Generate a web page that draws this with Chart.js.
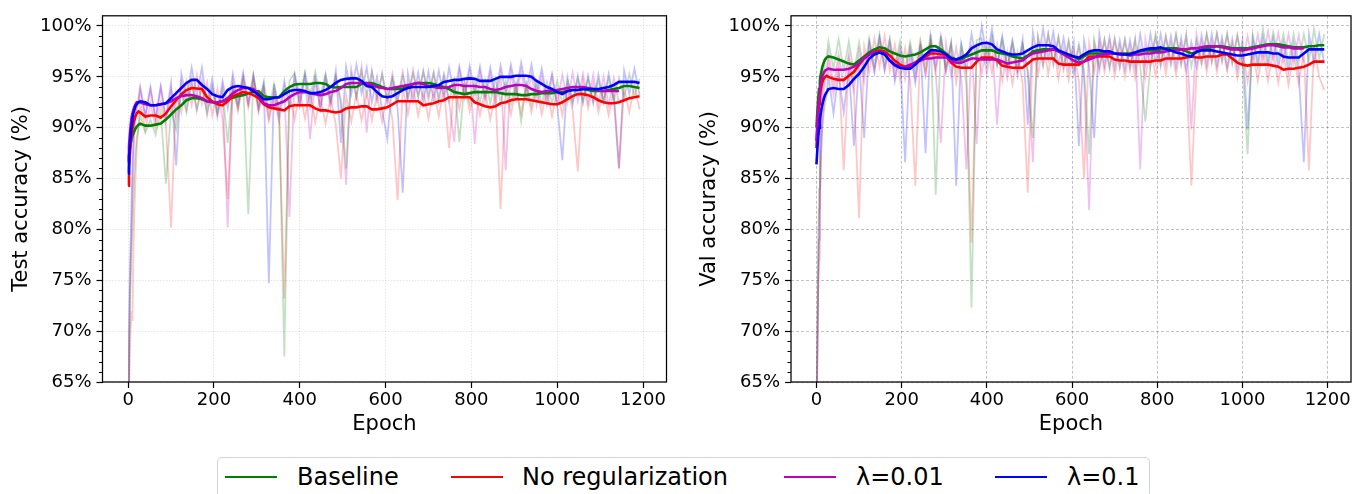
<!DOCTYPE html>
<html><head><meta charset="utf-8">
<script src="https://cdn.jsdelivr.net/npm/chart.js@4.4.1/dist/chart.umd.min.js"></script>
<style>
html,body{margin:0;padding:0;background:#fff;}
body{width:1354px;height:494px;position:relative;overflow:hidden;font-family:"DejaVu Sans",sans-serif;}
#c1{position:absolute;left:0;top:0;}
#c2{position:absolute;left:690px;top:0;}
#legend{position:absolute;left:217px;top:457px;width:933px;height:60px;border:1px solid #d4d4d4;border-radius:5px;box-sizing:border-box;background:#fff;}
.ln{position:absolute;top:18px;height:2px;width:52px;}
.tx{position:absolute;top:7px;font-size:24px;line-height:24px;color:#000;white-space:nowrap;}
</style></head>
<body>
<canvas id="c1" width="690" height="450"></canvas>
<canvas id="c2" width="664" height="450"></canvas>
<div id="legend"></div>
<script>
// ---------- data ----------
const EPOCHS = [0,2,4,6,8,10,12,14,17,20,24,
 28,40,52,64,76,88,100,112,124,136,
 148,160,172,184,196,208,220,232,244,256,
 268,280,292,304,316,328,340,352,364,376,
 388,400,412,424,436,448,460,472,484,496,
 508,520,532,544,556,568,580,592,604,616,
 628,640,652,664,676,688,700,712,724,736,
 748,760,772,784,796,808,820,832,844,856,
 868,880,892,904,916,928,940,952,964,976,
 988,1000,1012,1024,1036,1048,1060,1072,1084,1096,
 1108,1120,1132,1144,1156,1168,1180,1192];

const X_TICKS = [0,200,400,600,800,1000,1200];
const Y_TICKS = [65,70,75,80,85,90,95,100];
const Y_MINOR = [66,67,68,69,71,72,73,74,76,77,78,79,81,82,83,84,86,87,88,89,91,92,93,94,96,97,98,99];
const LEGEND_LABELS = ['Baseline','No regularization','\u03bb=0.01','\u03bb=0.1'];

// ---- Test accuracy (left) : raw ----
const TEST_BASE_RAW = [60,66,72,75,78,80.5,83,85,87.5,89,90,
 91.2,89.5,90.8,89.3,91.5,84.5,91.8,89.8,93.5,91.5,
 94.3,91.8,93.8,91.5,93.9,91.4,93.6,88.5,94.0,92.0,
 94.6,81.5,95.0,92.3,94.4,91.8,94.3,91.9,67.5,94.6,
 95.4,93.2,95.5,93.0,95.5,93.1,95.3,92.8,95.0,92.7,
 86.0,95.3,93.0,95.6,93.2,95.5,93.1,95.2,92.7,94.9,
 92.6,95.1,92.9,95.3,93.1,95.5,93.2,95.4,93.0,95.2,
 92.6,94.6,88.6,94.4,92.4,94.6,92.5,94.7,92.4,94.8,
 92.5,94.6,92.3,94.4,90.6,94.3,92.2,94.5,92.3,94.5,
 92.4,94.6,92.4,94.7,92.6,94.8,92.7,94.8,92.6,94.6,
 92.6,94.8,92.7,94.9,93.0,95.3,93.1,94.8];
const TEST_NOREG_RAW = [58,63,68,70.5,72,71,77,81,85,88,90,
 92.6,89.8,92.4,90.0,92.5,90.2,80.2,93.4,91.5,94.6,
 92.2,95.2,92.3,94.5,91.2,93.8,90.8,83.0,94.0,91.6,
 94.6,92.0,94.5,91.5,93.7,90.7,93.2,90.5,73.2,93.3,
 90.8,93.5,90.9,93.6,90.5,93.1,90.4,93.0,90.3,85.0,
 93.2,90.6,93.3,90.7,93.4,90.7,93.2,90.6,93.4,90.8,
 82.9,93.9,91.3,94.0,91.2,93.6,90.9,93.7,91.1,94.0,
 88.0,94.4,91.8,94.5,91.6,93.8,91.2,93.6,90.8,93.4,
 82.0,93.8,91.3,94.0,91.4,94.1,91.5,94.0,91.3,93.7,
 91.1,93.7,91.2,94.0,91.7,85.7,94.6,91.9,94.3,91.5,
 93.9,91.2,93.7,86.0,93.9,91.5,94.2,91.8];
const TEST_L001_RAW = [62,68,74,77,80,84,87,89,91,92,92.5,
 93.8,91.0,93.7,90.8,93.9,90.6,93.8,91.0,94.5,91.8,
 94.8,91.7,94.6,91.2,94.0,91.0,93.9,80.2,94.6,92.0,
 95.1,92.4,95.2,91.9,94.0,90.9,93.7,90.7,93.8,81.2,
 94.9,92.2,95.0,88.9,94.7,91.9,94.7,92.0,95.0,92.2,
 84.4,95.8,93.0,96.0,89.5,95.6,92.6,95.4,92.4,95.3,
 92.6,95.5,92.8,95.7,93.0,95.6,92.7,95.4,92.5,95.2,
 92.6,88.6,95.6,92.9,95.5,88.4,95.4,92.6,95.3,92.3,
 95.2,85.8,95.5,92.8,95.6,92.7,95.2,92.2,95.0,92.2,
 95.0,92.3,95.2,92.5,95.4,92.6,95.3,92.5,95.2,92.3,
 95.0,92.2,94.9,92.4,null,null,null,null];
const TEST_L01_RAW = [63,69,76,79,83,86,88.5,90,91.5,92.3,92.8,
 94.0,91.2,94.0,90.9,94.1,91.0,94.4,86.3,95.3,92.9,
 95.9,93.2,95.9,92.3,94.8,91.5,94.6,91.9,95.3,92.5,
 95.4,92.4,95.1,91.8,94.4,74.7,94.3,91.4,94.6,92.0,
 95.1,92.3,95.2,92.0,94.9,91.9,95.1,92.5,95.6,88.5,
 96.0,93.3,96.2,93.4,95.9,92.5,95.0,91.7,88.9,94.5,
 91.9,83.6,95.3,92.6,95.4,92.6,95.5,92.7,95.6,92.9,
 95.9,93.2,96.0,93.3,96.1,93.4,96.0,93.1,95.9,93.2,
 96.1,93.4,96.2,93.6,96.4,93.7,96.2,93.3,95.8,92.9,
 95.3,92.2,86.8,94.9,92.3,95.1,92.4,95.1,92.4,95.2,
 92.5,95.3,92.8,86.0,95.6,93.3,95.8,93.2];

// ---- Test accuracy (left) : smoothed ----
const TEST_BASE_SM = [86.5,87.3,88.0,88.5,88.9,89.2,89.4,89.6,89.9,90.1,90.3,
 90.4,90.2,90.2,90.3,90.4,90.8,91.3,91.8,92.2,92.7,
 92.9,92.9,92.8,92.6,92.5,92.45,92.6,92.8,92.95,93.1,
 93.2,93.35,93.5,93.6,93.1,93.0,93.0,93.0,93.6,94.0,
 94.25,94.3,94.3,94.3,94.4,94.4,94.3,94.0,93.95,94.0,
 94.0,94.0,94.0,94.3,94.4,94.4,94.2,94.0,93.8,93.8,
 93.8,93.85,94.0,94.3,94.4,94.4,94.4,94.3,94.1,94.0,
 93.8,93.5,93.4,93.3,93.4,93.5,93.5,93.5,93.5,93.5,
 93.4,93.3,93.3,93.3,93.2,93.2,93.3,93.3,93.4,93.4,
 93.4,93.5,93.5,93.6,93.7,93.7,93.8,93.7,93.6,93.6,
 93.6,93.7,93.8,93.9,94.1,94.1,94.0,93.9];
const TEST_NOREG_SM = [84.3,86.0,87.3,88.4,89.3,89.9,90.4,90.7,91.1,91.4,91.6,
 91.5,91.1,91.2,91.2,91.0,91.4,92.1,92.7,93.3,93.7,
 93.9,93.85,93.8,93.0,92.6,92.3,92.2,92.6,93.1,93.3,
 93.5,93.4,93.2,92.9,92.3,92.0,91.9,91.8,91.7,92.1,
 92.2,92.2,92.2,92.2,91.9,91.7,91.7,91.6,91.5,91.6,
 91.9,92.0,92.0,92.1,92.1,91.8,91.8,91.9,92.0,92.3,
 92.6,92.6,92.6,92.6,92.6,92.2,92.3,92.4,92.6,92.7,
 93.0,93.0,93.0,93.0,93.0,92.5,92.3,92.1,92.0,92.1,
 92.4,92.5,92.7,92.8,92.8,92.8,92.7,92.6,92.5,92.4,
 92.3,92.3,92.5,92.8,93.1,93.3,93.3,93.2,93.0,92.7,
 92.5,92.4,92.4,92.5,92.7,92.9,93.0,93.1];
const TEST_L001_SM = [86.7,88.2,89.4,90.3,91.0,91.4,91.7,92.0,92.3,92.5,92.5,
 92.5,92.3,92.2,92.2,92.3,92.4,92.6,92.9,93.1,93.2,
 93.2,93.1,92.9,92.6,92.5,92.5,92.6,92.9,93.4,93.7,
 93.9,93.9,93.8,93.3,92.4,92.2,92.2,92.4,92.6,93.0,
 93.3,93.5,93.5,93.4,93.3,93.2,93.3,93.5,93.6,93.9,
 94.3,94.4,94.4,94.4,94.4,94.2,94.0,93.9,93.8,93.9,
 94.0,94.1,94.2,94.3,94.4,94.3,94.1,94.0,93.9,93.9,
 94.0,94.2,94.2,94.1,94.1,94.1,94.0,94.0,93.8,93.7,
 93.8,94.0,94.1,94.2,94.2,94.1,93.8,93.6,93.5,93.6,
 93.6,93.7,93.8,93.9,94.0,94.0,94.0,93.9,93.8,93.7,
 93.6,93.6,93.6,93.6,null,null,null,null];
const TEST_L01_SM = [85.5,87.0,88.3,89.4,90.2,90.8,91.4,91.7,92.1,92.3,92.5,
 92.6,92.5,92.2,92.2,92.3,92.4,92.9,93.4,93.9,94.4,
 94.7,94.7,94.2,93.8,93.3,93.1,93.0,93.7,94.0,94.1,
 94.0,93.9,93.6,93.2,92.8,92.8,92.95,93.0,93.3,93.6,
 93.7,93.7,93.6,93.4,93.4,93.5,93.7,94.0,94.4,94.7,
 94.8,94.85,94.85,94.6,94.1,94.0,93.5,93.1,93.0,93.1,
 93.4,93.7,93.9,94.0,94.0,94.0,94.0,94.1,94.2,94.5,
 94.6,94.7,94.7,94.8,94.85,94.8,94.6,94.6,94.6,94.8,
 95.0,95.0,95.0,95.1,95.1,95.1,95.0,94.6,94.3,94.0,
 93.8,93.5,93.3,93.6,93.7,93.7,93.8,93.8,93.8,93.8,
 93.9,94.0,94.2,94.5,94.5,94.5,94.5,94.4];

// ---- Val accuracy (right) : raw ----
const VAL_BASE_RAW = [62,70,78,84,88,91,93,94.5,95.5,96.5,97.0,
 98.5,95.8,98.7,95.6,98.5,95.3,98.4,95.5,98.8,96.2,
 99.2,96.4,98.8,96.0,98.5,95.8,98.4,95.6,98.6,96.0,
 99.2,83.4,99.0,96.0,98.4,95.5,98.2,95.4,72.3,98.6,
 98.8,96.2,99.0,96.2,98.7,96.0,98.4,95.6,98.2,95.6,
 89.0,98.9,96.2,99.2,96.3,98.9,96.0,98.6,95.8,98.2,
 95.7,87.4,98.6,96.0,98.7,96.0,98.6,96.0,98.6,96.0,
 98.7,96.1,90.6,96.2,99.2,96.3,99.0,96.4,99.2,96.2,
 99.0,96.0,98.6,96.2,99.2,96.4,99.2,96.5,99.2,96.3,
 99.0,96.3,87.4,99.2,96.6,99.7,96.7,99.4,96.8,99.2,
 96.5,99.2,96.4,99.2,96.6,99.7,96.8,99.2];
const VAL_NOREG_RAW = [60,66,73.5,77,82,86,89,91,93,94.5,95.0,
 96.5,93.2,96.3,85.8,96.5,93.5,81.1,98.0,95.5,98.8,
 96.0,99.0,95.6,98.2,94.8,97.8,94.6,84.3,98.2,95.3,
 98.6,95.6,98.6,95.5,98.0,94.4,97.4,94.3,78.7,97.8,
 95.3,98.3,95.4,98.2,94.6,97.5,94.3,97.4,94.3,83.6,
 98.1,95.2,98.3,95.3,98.2,94.8,97.7,94.7,97.6,94.6,
 85.0,98.3,95.5,98.4,95.5,98.4,95.1,98.0,95.0,97.9,
 94.9,97.8,94.9,97.9,95.1,98.0,95.3,98.2,95.2,98.2,
 95.3,84.3,95.4,98.3,95.5,98.4,95.5,98.4,95.6,98.2,
 94.9,97.8,94.5,97.6,94.6,97.7,94.6,97.6,94.4,97.2,
 94.2,97.3,94.3,97.5,85.8,98.0,95.0,93.7];
const VAL_L001_RAW = [61,68,76,82,86.5,89.5,92,93.5,94.5,95.3,95.8,
 97.4,94.2,97.2,94.0,97.3,93.8,97.6,94.6,98.4,95.6,
 98.8,95.8,98.6,95.0,97.9,94.8,97.9,94.9,98.0,95.2,
 98.3,95.3,88.5,98.3,95.1,97.9,94.8,85.9,98.2,88.4,
 98.2,95.3,98.4,90.3,98.0,94.9,97.9,95.1,98.1,95.4,
 86.6,98.9,96.1,99.2,96.2,98.9,95.7,98.4,95.2,97.9,
 95.0,81.9,98.3,95.6,98.6,95.8,98.8,95.9,98.7,95.7,
 98.6,85.9,98.7,96.0,98.9,96.0,99.0,96.2,99.1,96.3,
 99.2,89.8,99.2,96.5,99.2,96.6,99.3,96.6,99.2,96.4,
 99.1,96.3,99.0,96.4,99.2,96.6,99.5,96.7,99.3,96.6,
 99.2,96.5,99.1,96.4,null,null,null,null];
const VAL_L01_RAW = [60,67,74,79,83,86,88.5,90,91.5,92.5,93.3,
 95.2,91.4,95.4,91.5,95.8,88.2,96.6,89.0,98.2,95.5,
 98.8,95.6,98.2,94.6,97.3,86.6,97.5,94.4,98.2,87.5,
 99.0,96.0,99.0,95.6,98.3,84.3,98.2,95.6,99.2,96.5,
 100.0,96.8,99.7,96.2,99.0,95.9,98.6,95.7,98.7,90.3,
 99.4,96.6,99.7,96.7,99.4,96.1,98.8,95.8,98.4,88.2,
 98.6,96.0,89.0,99.2,96.1,98.9,95.9,98.6,95.8,98.6,
 95.9,99.2,96.2,99.2,96.4,99.2,96.3,99.0,96.0,98.8,
 95.7,98.4,96.0,99.1,96.2,99.2,96.1,98.9,95.9,98.7,
 95.8,98.6,89.8,98.8,96.0,98.9,96.0,98.8,95.9,98.4,
 95.5,98.3,95.5,86.6,99.2,96.3,99.2,96.3];

// ---- Val accuracy (right) : smoothed ----
const VAL_BASE_SM = [90.0,91.5,92.8,93.8,94.6,95.2,95.6,96.0,96.4,96.7,96.9,
 97.0,96.9,96.7,96.5,96.3,96.2,96.6,97.0,97.4,97.7,
 97.9,97.8,97.5,97.3,97.1,97.0,97.1,97.2,97.4,97.7,
 98.0,98.0,97.7,97.3,96.9,96.7,96.7,97.0,97.2,97.4,
 97.6,97.6,97.6,97.4,97.3,97.2,97.0,96.9,96.8,97.1,
 97.5,97.6,97.7,97.7,97.7,97.5,97.3,97.1,97.0,96.7,
 97.0,97.3,97.3,97.3,97.3,97.3,97.3,97.3,97.3,97.3,
 97.4,97.5,97.6,97.6,97.6,97.7,97.8,97.8,97.8,97.7,
 97.5,97.3,97.4,97.7,97.8,97.9,98.0,98.0,97.9,97.8,
 97.8,97.8,97.8,97.9,98.0,98.1,98.2,98.2,98.2,98.1,
 98.0,97.9,97.9,97.9,98.0,98.0,98.1,98.1];
const VAL_NOREG_SM = [88.0,89.8,91.2,92.3,93.1,93.7,94.2,94.5,94.8,95.0,95.1,
 95.0,94.8,94.7,94.7,95.1,95.5,96.2,96.8,97.2,97.5,
 97.6,97.5,97.1,96.6,96.2,96.0,96.0,96.4,96.8,97.0,
 97.3,97.3,97.2,97.2,96.4,96.0,95.9,95.9,95.9,96.5,
 96.9,96.9,96.9,96.6,96.1,96.0,95.9,95.9,95.9,96.3,
 96.7,96.8,96.8,96.8,96.8,96.3,96.2,96.2,96.2,96.2,
 96.5,97.0,97.0,97.0,97.0,97.0,96.7,96.6,96.6,96.5,
 96.5,96.5,96.5,96.5,96.6,96.6,96.8,96.8,96.8,96.8,
 96.9,97.0,96.9,96.9,97.0,97.0,97.0,97.2,97.2,96.8,
 96.4,96.2,96.1,96.2,96.2,96.2,96.2,96.1,96.0,95.7,
 95.8,95.8,95.9,96.0,96.2,96.5,96.5,96.5];
const VAL_L001_SM = [88.7,90.4,91.8,92.9,93.7,94.3,94.8,95.1,95.4,95.6,95.7,
 95.8,95.7,95.7,95.7,95.8,96.0,96.3,96.8,97.2,97.4,
 97.4,97.3,96.6,96.1,95.9,96.0,96.2,96.4,96.6,96.8,
 96.8,96.9,96.9,96.9,96.6,96.4,96.4,96.6,96.8,96.8,
 96.7,96.7,96.7,96.7,96.5,96.3,96.4,96.5,96.6,97.0,
 97.3,97.4,97.5,97.6,97.7,97.5,97.2,96.9,96.6,96.4,
 96.5,96.7,96.9,97.1,97.2,97.3,97.3,97.3,97.2,97.1,
 97.2,97.2,97.3,97.3,97.4,97.4,97.5,97.6,97.6,97.7,
 97.7,97.8,97.8,97.9,98.0,98.0,98.0,97.9,97.8,97.7,
 97.7,97.6,97.7,97.8,97.9,98.0,98.1,98.1,98.0,97.9,
 97.9,97.8,97.8,97.8,null,null,null,null];
const VAL_L01_SM = [86.4,87.8,89.0,90.0,90.8,91.4,91.9,92.3,92.8,93.2,93.5,
 93.8,93.9,93.8,93.8,94.2,94.8,95.3,96.0,96.8,97.2,
 97.4,97.2,96.6,96.2,95.9,95.8,95.8,96.2,96.7,97.2,
 97.6,97.6,97.5,97.2,96.8,96.7,96.9,97.2,97.8,98.1,
 98.3,98.35,98.2,97.7,97.5,97.3,97.2,97.2,97.3,97.6,
 97.9,98.1,98.1,98.1,98.0,97.6,97.4,97.2,97.0,96.9,
 97.2,97.5,97.6,97.6,97.5,97.5,97.3,97.2,97.2,97.2,
 97.4,97.6,97.7,97.8,97.8,97.9,97.7,97.6,97.4,97.3,
 97.1,97.0,97.5,97.6,97.6,97.6,97.5,97.4,97.3,97.2,
 97.1,97.1,97.2,97.3,97.4,97.4,97.4,97.3,97.3,97.0,
 96.9,96.9,96.9,97.3,97.7,97.7,97.7,97.7];

// ---------- styling ----------
const COLORS = ['#008000','#ff0000','#bf00bf','#0000ff'];
const RAW_COLORS = ['rgba(0,128,0,0.24)','rgba(255,0,0,0.22)','rgba(191,0,191,0.24)','rgba(0,0,255,0.24)'];
const FONT = 'DejaVu Sans';
Chart.defaults.font.family = FONT;

const pts = ys => EPOCHS.map((x, i) => ({x: x, y: ys[i]}));

const framePlugin = {
  id: 'frame',
  afterDraw(chart) {
    const {ctx, chartArea: a, scales} = chart;
    ctx.save();
    ctx.strokeStyle = '#000';
    ctx.lineWidth = 1.25;
    ctx.strokeRect(a.left, a.top, a.right - a.left, a.bottom - a.top);
    ctx.lineWidth = 1;
    ctx.beginPath();
    for (const v of Y_MINOR) {
      const p = Math.round(scales.y.getPixelForValue(v)) + 0.5;
      ctx.moveTo(a.left - 3.5, p);
      ctx.lineTo(a.left, p);
    }
    ctx.stroke();
    ctx.restore();
  }
};

function makeChart(id, yTitle, raws, sms, opt) {
  const datasets = [];
  raws.forEach((r, i) => datasets.push({
    data: pts(r), borderColor: RAW_COLORS[i], borderWidth: 1.8,
    pointRadius: 0, order: 10, spanGaps: false
  }));
  sms.forEach((s, i) => datasets.push({
    data: pts(s), borderColor: COLORS[i], borderWidth: 2.6,
    pointRadius: 0, order: 4 - i, spanGaps: false
  }));
  const tickFont = {family: FONT, size: 18};
  const titleFont = {family: FONT, size: 21};
  return new Chart(document.getElementById(id), {
    type: 'line',
    data: {datasets},
    plugins: [framePlugin],
    options: {
      responsive: false, animation: false, events: [],
      layout: {padding: {top: 7, right: opt.padRight, left: 0, bottom: 0}},
      plugins: {legend: {display: false}, tooltip: {enabled: false}},
      scales: {
        x: {
          type: 'linear', min: -59.75, max: 1254.75,
          afterBuildTicks: s => { s.ticks = X_TICKS.map(v => ({value: v})); },
          afterFit: s => { s.height = 68; },
          ticks: {autoSkip: false, maxRotation: 0, padding: 2, color: '#000', font: tickFont,
                  callback: v => String(v)},
          grid: {color: opt.gridColor, lineWidth: 0.8, tickColor: '#000', tickLength: 6,
                 tickWidth: 1.2, tickBorderDash: []},
          border: {display: false, dash: opt.gridDash},
          title: {display: true, text: 'Epoch', color: '#000', font: titleFont,
                  padding: {top: 0, bottom: 12.4}}
        },
        y: {
          type: 'linear', min: 65, max: 101,
          afterBuildTicks: s => { s.ticks = Y_TICKS.map(v => ({value: v})); },
          afterFit: s => { s.width = opt.yWidth; },
          ticks: {autoSkip: false, padding: 5, color: '#000', font: tickFont,
                  callback: v => v + '%'},
          grid: {color: opt.gridColor, lineWidth: 0.8, tickColor: '#000', tickLength: 6,
                 tickWidth: 1.2, tickBorderDash: []},
          border: {display: false, dash: opt.gridDash},
          title: {display: true, text: yTitle, color: '#000', font: titleFont,
                  padding: {top: opt.yTitlePad, bottom: 0}}
        }
      }
    }
  });
}

makeChart('c1', 'Test accuracy (%)',
  [TEST_BASE_RAW, TEST_NOREG_RAW, TEST_L001_RAW, TEST_L01_RAW],
  [TEST_BASE_SM, TEST_NOREG_SM, TEST_L001_SM, TEST_L01_SM],
  {padRight: 23.5, yWidth: 102.5, yTitlePad: 9.4, gridColor: 'rgba(0,0,0,0.13)', gridDash: [1.5, 1.5]});

makeChart('c2', 'Val accuracy (%)',
  [VAL_BASE_RAW, VAL_NOREG_RAW, VAL_L001_RAW, VAL_L01_RAW],
  [VAL_BASE_SM, VAL_NOREG_SM, VAL_L001_SM, VAL_L01_SM],
  {padRight: 3, yWidth: 101, yTitlePad: 7.4, gridColor: 'rgba(0,0,0,0.3)', gridDash: [3, 2]});

// ---------- legend ----------
const LEG_LINE_X = [7, 233, 566, 777];
const LEG_TEXT_X = [79, 304, 638, 849];
const leg = document.getElementById('legend');
LEGEND_LABELS.forEach((lab, i) => {
  const l = document.createElement('div');
  l.className = 'ln'; l.style.left = LEG_LINE_X[i] + 'px'; l.style.background = COLORS[i];
  leg.appendChild(l);
  const t = document.createElement('div');
  t.className = 'tx'; t.style.left = LEG_TEXT_X[i] + 'px'; t.textContent = lab;
  leg.appendChild(t);
});
</script>
</body></html>
